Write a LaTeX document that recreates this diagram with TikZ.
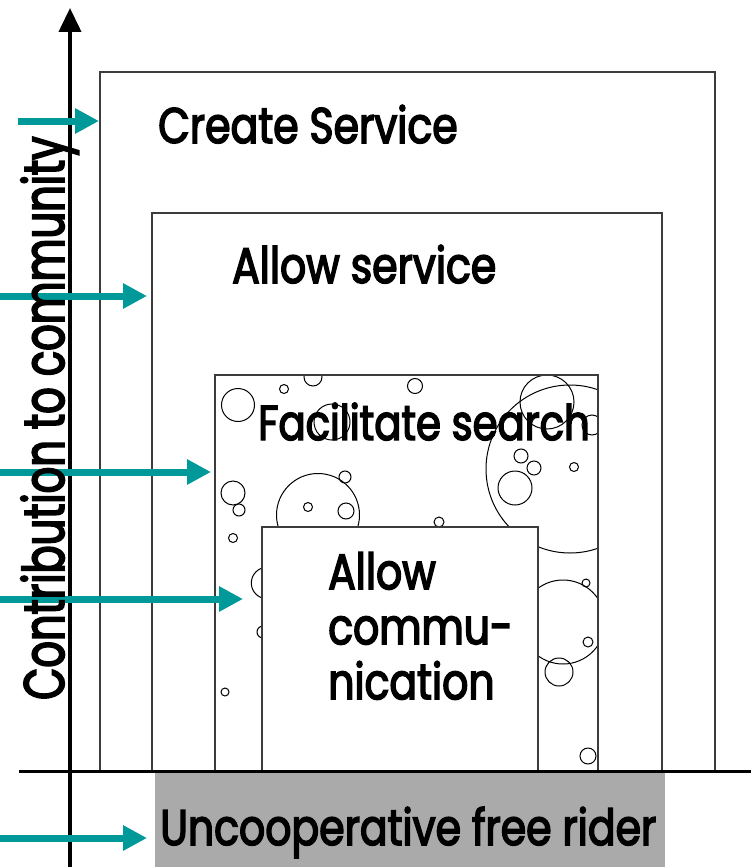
\documentclass[tikz,border=0pt]{standalone}
\usepackage{fontspec}
\setmainfont{Poppins}[FakeStretch=0.82,FakeBold=3]
\newfontfamily\axisfont{Poppins}[FakeStretch=0.73,FakeBold=3]
\usetikzlibrary{arrows.meta}
\definecolor{teal}{RGB}{0,153,153}
\definecolor{ridergray}{RGB}{170,170,170}
\definecolor{edge}{RGB}{60,60,60}
\begin{document}
\begin{tikzpicture}[x=1pt,y=-1pt,
  box/.style={draw=edge,line width=1.6pt},
  bubble/.style={draw=black,line width=1pt},
  push/.style={draw=teal,line width=7pt,-{Triangle[length=24pt,width=24pt]}},
  lbl/.style={inner sep=0pt,anchor=base west,text=black}]
\useasboundingbox (0,0) rectangle (752,867);
\coordinate (B1) at (100,72);
\coordinate (B2) at (152,213);
\coordinate (B3) at (215,375);
\coordinate (B4) at (262,527);
\fill[color=ridergray] (155,771) rectangle (665,867);
\draw[box] (100,771)--(B1)--(715,72)--(715,771);
\draw[box] (152,771)--(B2)--(662,213)--(662,771);
\begin{scope}
\clip (B3) rectangle (598,771);
\foreach \cx/\cy/\r in {238/405/16.5,284/389/4.5,313/377/9,415/386/7.5,332/422/18,
  547/402/27,570/469/84,521/456/7,534/468/7,574/467/4.5,515/488/17,592/425/10,
  233/493/12,239/510/6,233/538/4.5,318/515/41.5,308/507/4.5,346/511/8,345/477/6,
  439/522/5,267/583/15.7,263/632/6,225/692/4,563/622/42,586/583/4,588/642/5,
  559/672/14,588/756/8}{
\draw[bubble] (\cx,\cy) circle[radius=\r];
}
\end{scope}
\draw[box] (215,771)--(B3)--(598,375)--(598,771);
\fill[white] (B4) rectangle (538,771);
\draw[box] (262,771)--(B4)--(538,527)--(538,771);
\draw[line width=3pt] (19,771)--(751,771);
\draw[line width=4pt,-{Triangle[length=24pt,width=22pt]}] (70,867)--(70,8);
\coordinate (S1) at (18,121);
\coordinate (S2) at (0,296);
\coordinate (S3) at (0,472);
\coordinate (S4) at (0,599);
\coordinate (S5) at (0,838);
\coordinate (T1) at (99,121);
\coordinate (T2) at (147,296);
\coordinate (T3) at (211,472);
\coordinate (T4) at (243,599);
\coordinate (T5) at (147,838);
\foreach \i in {1,...,5}{
\draw[push] (S\i)--(T\i);
}
\node (create) at (158,143) [lbl,font=\fontsize{50}{55}\selectfont] {Create Service};
\node (service) at (232,283) [lbl,font=\fontsize{50}{55}\selectfont] {Allow service};
\node (search) at (258,440) [lbl,font=\fontsize{49}{55}\selectfont] {Facilitate search};
\node (comm) at (328,552) [inner sep=0pt,anchor=north west,align=left,font=\fontsize{50}{55}\selectfont] {Allow\\commu-\\nication};
\node (rider) at (160,845) [lbl,font=\fontsize{50}{60}\selectfont] {Uncooperative free rider};
\node (axis) at (64,700) [lbl,rotate=90,font=\axisfont\fontsize{57}{60}\selectfont] {Contribution to community};
\end{tikzpicture}
\end{document}
